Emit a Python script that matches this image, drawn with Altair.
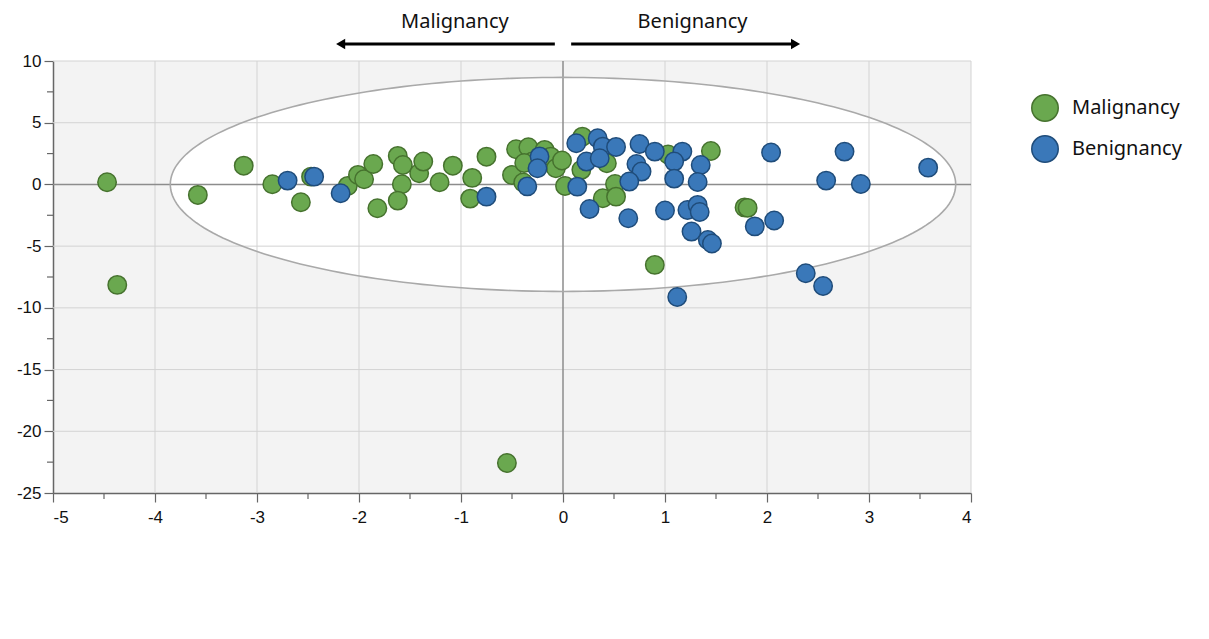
import altair as alt
import pandas as pd
import numpy as np

# ---------------- data ----------------
mal_x = [-4.47, -4.37, -3.58, -3.13, -2.85, -2.57, -2.47, -2.11, -2.01, -1.95,
         -1.86, -1.82, -1.62, -1.57, -1.58, -1.62, -1.41, -1.37, -1.21, -1.08,
         -0.89, -0.91, -0.75, -0.50, -0.46, -0.34, -0.39, -0.30, -0.38, -0.18,
         -0.12, -0.07, -0.01, 0.02, 0.19, 0.18, 0.43, 0.51, 0.39, 0.52,
         1.03, 1.45, 0.90, 1.78, 1.81, -0.55]
mal_y = [0.18, -8.14, -0.85, 1.52, 0.02, -1.44, 0.63, -0.12, 0.77, 0.42,
         1.66, -1.93, 2.31, 1.58, 0.02, -1.31, 0.91, 1.85, 0.18, 1.52,
         0.53, -1.15, 2.25, 0.77, 2.85, 3.01, 0.16, 1.85, 1.74, 2.80,
         2.25, 1.31, 1.94, -0.12, 3.87, 1.18, 1.72, 0.04, -1.12, -0.99,
         2.43, 2.71, -6.52, -1.86, -1.90, -22.57]

ben_x = [-2.70, -2.44, -2.18, -0.75, -0.35, -0.23, -0.25, 0.13, 0.14, 0.34,
         0.39, 0.52, 0.23, 0.36, 0.26, 0.64, 0.75, 0.90, 1.17, 1.09,
         1.35, 0.72, 0.77, 0.65, 1.09, 1.32, 1.00, 1.22, 1.32, 1.34,
         1.26, 1.42, 1.46, 1.88, 2.07, 2.04, 2.76, 2.58, 2.92, 3.58,
         2.38, 2.55, 1.12]
ben_y = [0.31, 0.63, -0.71, -0.99, -0.16, 2.27, 1.31, 3.34, -0.18, 3.74,
         3.06, 3.04, 1.85, 2.12, -1.99, -2.74, 3.28, 2.66, 2.66, 1.85,
         1.58, 1.66, 1.04, 0.23, 0.47, 0.20, -2.11, -2.07, -1.66, -2.23,
         -3.82, -4.50, -4.78, -3.40, -2.92, 2.58, 2.66, 0.31, 0.04, 1.36,
         -7.20, -8.23, -9.12]

groups = ["Malignancy", "Benignancy"]
fill_colors = ["#6aa84f", "#3a78b9"]
stroke_colors = ["#46722e", "#1f4c7a"]

x_ticks = [-5, -4, -3, -2, -1, 0, 1, 2, 3, 4]
y_ticks = [10, 5, 0, -5, -10, -15, -20, -25]
x_minor = [-4.5, -3.5, -2.5, -1.5, -0.5, 0.5, 1.5, 2.5, 3.5]
y_minor = [7.5, 2.5, -2.5, -7.5, -12.5, -17.5, -22.5]

# confidence ellipse semi-axes (centred on the origin)
ellipse_a = 3.85
ellipse_b = 8.67

# annotation arrows (in x data units)
arrow_labels = ["Malignancy", "Benignancy"]
arrow_label_x = [-1.06, 1.27]
arrow_start = [-0.08, 0.08]
arrow_end = [-2.18, 2.28]
arrow_shape = ["triangle-left", "triangle-right"]

# ---------------- tables ----------------
pts = pd.DataFrame({
    "x": mal_x + ben_x,
    "y": mal_y + ben_y,
    "group": ["Malignancy"] * len(mal_x) + ["Benignancy"] * len(ben_x),
})

t = np.linspace(0, 2 * np.pi, 241)
ell_line = pd.DataFrame({"x": ellipse_a * np.cos(t), "y": ellipse_b * np.sin(t), "i": np.arange(len(t))})
xs = ellipse_a * np.cos(np.linspace(np.pi, 0, 241))
half = ellipse_b * np.sqrt(np.clip(1 - (xs / ellipse_a) ** 2, 0, None))
ell_fill = pd.DataFrame({"x": xs, "y": half, "y2": -half})

xgrid = pd.DataFrame({"x": [v for v in x_ticks if v not in (-5, 0)]})
ygrid = pd.DataFrame({"y": [v for v in y_ticks if v not in (-25, 0)]})
zerox = pd.DataFrame({"x": [0]})
zeroy = pd.DataFrame({"y": [0]})
xminor = pd.DataFrame({"x": x_minor})
yminor = pd.DataFrame({"y": y_minor})
arrows = pd.DataFrame({"label": arrow_labels, "lx": arrow_label_x, "x": arrow_start,
                       "x2": arrow_end, "shape": arrow_shape})

W, H = 918, 432
xscale = alt.Scale(domain=[-5, 4], nice=False, zero=False)
yscale = alt.Scale(domain=[-25, 10], nice=False, zero=False)

AX_FONT = "Liberation Sans"
TXT_FONT = "Noto Sans"

x_axis = alt.Axis(
    values=x_ticks, grid=False, title=None, labelFont=AX_FONT, labelFontSize=17,
    labelColor="#111111", tickColor="#666666", domainColor="#666666", tickSize=9,
    tickWidth=1.2, domainWidth=1.5, labelPadding=7, labelExpr="'' + datum.value")
y_axis = alt.Axis(
    values=y_ticks, grid=False, title=None, labelFont=AX_FONT, labelFontSize=17,
    labelColor="#111111", tickColor="#666666", domainColor="#666666", tickSize=9,
    tickWidth=1.2, domainWidth=1.5, labelPadding=3, labelExpr="'' + datum.value")


def X(field="x"):
    return alt.X(f"{field}:Q", scale=xscale, axis=x_axis, title=None)


def Y(field="y"):
    return alt.Y(f"{field}:Q", scale=yscale, axis=y_axis, title=None)


fill_layer = alt.Chart(ell_fill).mark_area(color="white", opacity=1).encode(
    x=X(), y=Y(), y2="y2:Q")

vgrid = alt.Chart(xgrid).mark_rule(color="#d3d3d3", strokeWidth=1).encode(x=X())
hgrid = alt.Chart(ygrid).mark_rule(color="#d3d3d3", strokeWidth=1).encode(y=Y())
vzero = alt.Chart(zerox).mark_rule(color="#8c8c8c", strokeWidth=1.5).encode(x=X())
hzero = alt.Chart(zeroy).mark_rule(color="#8c8c8c", strokeWidth=1.5).encode(y=Y())

ell_outline = alt.Chart(ell_line).mark_line(color="#a9a9a9", strokeWidth=1.6).encode(
    x=X(), y=Y(), order="i:Q")

legend = alt.Legend(
    title=None, orient="none", legendX=978, legendY=33,
    symbolSize=700, symbolStrokeWidth=1.5, labelFont=TXT_FONT, labelFontSize=20,
    labelColor="#111111", labelOffset=13, rowPadding=7, symbolType="circle",
)

points = alt.Chart(pts).mark_circle(size=340, opacity=1, strokeWidth=1.5).encode(
    x=X(), y=Y(),
    fill=alt.Fill("group:N", scale=alt.Scale(domain=groups, range=fill_colors), legend=legend),
    stroke=alt.Stroke("group:N", scale=alt.Scale(domain=groups, range=stroke_colors), legend=legend),
)

xminor_l = alt.Chart(xminor).mark_rule(color="#666666", strokeWidth=1.2).encode(
    x=X(), y=alt.value(H), y2=alt.value(H + 6))
yminor_l = alt.Chart(yminor).mark_rule(color="#666666", strokeWidth=1.2).encode(
    y=Y(), x=alt.value(0), x2=alt.value(-6))

arrow_lines = alt.Chart(arrows).mark_rule(color="black", strokeWidth=3).encode(
    x=X(), x2="x2:Q", y=alt.value(-17))
arrow_heads = alt.Chart(arrows).mark_point(filled=True, color="black", size=110, opacity=1).encode(
    x=X("x2"), y=alt.value(-17),
    shape=alt.Shape("shape:N", scale=None, legend=None))
arrow_text = alt.Chart(arrows).mark_text(font=TXT_FONT, fontSize=20, color="#111111").encode(
    x=X("lx"), y=alt.value(-39), text="label:N")

chart = alt.layer(
    fill_layer, vgrid, hgrid, vzero, hzero, ell_outline, points,
    xminor_l, yminor_l, arrow_lines, arrow_heads, arrow_text,
).properties(
    width=W, height=H,
    autosize=alt.AutoSizeParams(type="none"),
    padding={"left": 53, "top": 61, "right": 238, "bottom": 146},
    background="white",
).configure_view(fill="#f3f3f3", strokeWidth=0)

chart.save("out.html", embed_options={"renderer": "svg", "actions": False})
